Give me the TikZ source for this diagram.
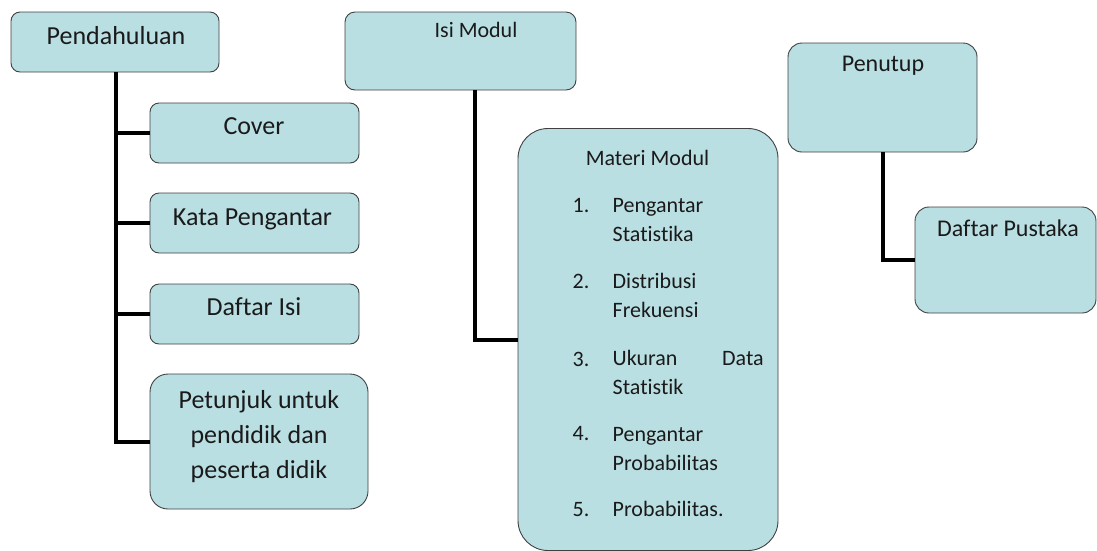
\documentclass[tikz,border=0pt]{standalone}
\usepackage{fontspec}
\setmainfont{Carlito}[Ligatures=NoCommon]
\definecolor{boxfill}{HTML}{BADFE3}
\definecolor{boxline}{HTML}{404040}
\definecolor{txtcol}{HTML}{1A1A1A}
\begin{document}
\begin{tikzpicture}[x=1pt,y=-1pt,
  box/.style={draw=boxline, fill=boxfill, line width=0.9pt, inner sep=0pt, outer sep=0pt, rounded corners=#1},
  box/.default=9pt,
  conn/.style={line width=4pt, black},
  txt/.style={inner sep=0pt, outer sep=0pt, text=txtcol},
  fbig/.style={font=\fontsize{26}{35}\selectfont},
  fmid/.style={font=\fontsize{24}{29}\selectfont},
  fsmall/.style={font=\fontsize{22}{29}\selectfont}]
\useasboundingbox (0,0) rectangle (1097,550);

% boxes
\node[box, minimum width=208pt, minimum height=60pt] (pend) at (115,42) {};
\node[box, minimum width=209pt, minimum height=60pt] (cover) at (254.5,133) {};
\node[box, minimum width=209pt, minimum height=60pt] (kata) at (254.5,223) {};
\node[box, minimum width=209pt, minimum height=60pt] (dafisi) at (254.5,314) {};
\node[box=18pt, minimum width=218pt, minimum height=135pt] (petunjuk) at (259,441.5) {};
\node[box=10pt, minimum width=231pt, minimum height=78pt] (isi) at (460.5,51) {};
\node[box=30pt, minimum width=260pt, minimum height=422pt] (materi) at (648,339.5) {};
\node[box=14pt, minimum width=189pt, minimum height=109pt] (penutup) at (882.5,97.5) {};
\node[box=14pt, minimum width=181pt, minimum height=106pt] (dafpus) at (1005.5,260) {};

% connectors
\coordinate (trunk) at ([xshift=1pt]pend.south);
\coordinate (isidrop) at ([xshift=14.5pt]isi.south);
\draw[conn] (trunk) |- (petunjuk.west);
\draw[conn] (cover.west) -- (cover.west -| trunk);
\draw[conn] (kata.west) -- (kata.west -| trunk);
\draw[conn] (dafisi.west) -- (dafisi.west -| trunk);
\draw[conn] (isidrop) |- (materi.west);
\draw[conn] (penutup.south) |- (dafpus.west);

% texts
\node[txt, fbig, anchor=base] (tpend) at (116,44.3) {Pendahuluan};
\node[txt, fbig, anchor=base] (tcover) at (254,134) {Cover};
\node[txt, fbig, anchor=base] (tkata) at (252.5,225) {Kata Pengantar};
\node[txt, fbig, anchor=base] (tdafisi) at (254,315) {Daftar Isi};
\node[txt, fbig, align=center, anchor=base] (tpet) at (259,478.3) {Petunjuk untuk\\pendidik dan\\peserta didik};
\node[txt, fsmall, anchor=base] (tisi) at (476,37.3) {Isi Modul};
\node[txt, fmid, anchor=base] (tpen) at (883,71.7) {Penutup};
\node[txt, fmid, anchor=base] (tdafpus) at (1008,236.7) {Daftar Pustaka};

\node[txt, fsmall, anchor=base] (tmat) at (647.5,165) {Materi Modul};
\node[txt, fsmall, anchor=base west] (n1) at (572.7,212.7) {1.};
\node[txt, fsmall, anchor=base west] (n2) at (572.7,288) {2.};
\node[txt, fsmall, anchor=base west] (n3) at (572.7,366) {3.};
\node[txt, fsmall, anchor=base west] (n4) at (572.7,440.7) {4.};
\node[txt, fsmall, anchor=base west] (n5) at (572.7,516) {5.};
\node[txt, fsmall, anchor=base west, align=left] (i1) at (612.7,241.7) {Pengantar\\Statistika};
\node[txt, fsmall, anchor=base west, align=left] (i2) at (612.7,317.3) {Distribusi\\Frekuensi};
\node[txt, fsmall, anchor=base west, align=left] (i3) at (612.7,394.3) {\hbox to 151pt{Ukuran\hfill Data}\\Statistik};
\node[txt, fsmall, anchor=base west, align=left] (i4) at (612.7,470) {Pengantar\\Probabilitas};
\node[txt, fsmall, anchor=base west] (i5) at (612.7,516) {Probabilitas.};
\end{tikzpicture}
\end{document}
